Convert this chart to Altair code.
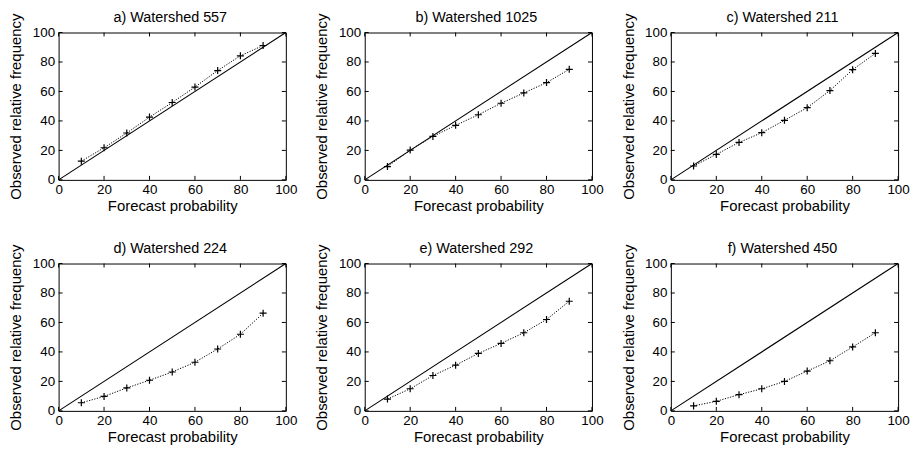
import altair as alt
import pandas as pd

forecast = [10, 20, 30, 40, 50, 60, 70, 80, 90]
titles = ["a) Watershed 557", "b) Watershed 1025", "c) Watershed 211",
          "d) Watershed 224", "e) Watershed 292", "f) Watershed 450"]
obs_557 = [12.7, 21.8, 31.8, 42.6, 52.5, 63.0, 74.2, 84.2, 91.2]
obs_1025 = [9.0, 20.2, 29.5, 37.0, 44.2, 52.0, 59.0, 66.0, 75.0]
obs_211 = [9.4, 17.3, 25.4, 32.0, 40.4, 49.0, 60.6, 74.8, 85.8]
obs_224 = [5.5, 9.8, 15.6, 20.8, 26.4, 33.0, 42.0, 52.0, 66.3]
obs_292 = [8.0, 15.0, 24.0, 31.0, 39.0, 45.8, 53.0, 62.0, 74.4]
obs_450 = [3.4, 6.5, 11.0, 15.0, 20.0, 27.0, 34.0, 43.4, 53.0]
series = [obs_557, obs_1025, obs_211, obs_224, obs_292, obs_450]
ticks = [0, 20, 40, 60, 80, 100]
diag = [0, 100]

W, H = 229, 148.5
FONT = "Liberation Sans"
PLUS = "M-1,0L1,0M0,-1L0,1"


def panel(title, obs):
    df = pd.DataFrame({"f": forecast, "o": obs})
    dd = pd.DataFrame({"f": diag, "o": diag})
    tk = pd.DataFrame({"f": ticks, "o": ticks})
    tt = pd.DataFrame({"t": [title]})
    xs = alt.Scale(domain=[0, 100], nice=False)
    ys = alt.Scale(domain=[0, 100], nice=False)
    x = alt.X("f:Q", scale=xs, axis=alt.Axis(values=ticks, title="Forecast probability",
                                              labelPadding=3, titlePadding=2))
    y = alt.Y("o:Q", scale=ys, axis=alt.Axis(values=ticks, title="Observed relative frequency",
                                              labelPadding=4, titlePadding=8.5))

    d = alt.Chart(dd).mark_line(color="black", strokeWidth=1.1).encode(x=x, y=y)
    l = alt.Chart(df).mark_line(color="black", strokeWidth=1, strokeDash=[1.2, 1.5]).encode(x=x, y=y)
    p = alt.Chart(df).mark_point(shape=PLUS, size=50, color="black", filled=False,
                                 strokeWidth=1.2, opacity=1).encode(x=x, y=y)
    t1 = alt.Chart(tk).mark_rule(color="black").encode(x=x, y=alt.value(H), y2=alt.value(H - 4))
    t2 = alt.Chart(tk).mark_rule(color="black").encode(x=x, y=alt.value(0), y2=alt.value(4))
    t3 = alt.Chart(tk).mark_rule(color="black").encode(y=y, x=alt.value(0), x2=alt.value(4))
    t4 = alt.Chart(tk).mark_rule(color="black").encode(y=y, x=alt.value(W), x2=alt.value(W - 4))
    ti = alt.Chart(tt).mark_text(font=FONT, fontSize=14.5, color="black", align="center",
                                 baseline="alphabetic").encode(
        text="t:N", x=alt.value(W / 2 - 2), y=alt.value(-10.5))
    return alt.layer(d, l, p, t1, t2, t3, t4, ti).properties(width=W, height=H)


panels = [panel(t, s) for t, s in zip(titles, series)]
chart = alt.concat(*panels, columns=3, spacing={"row": 83.8, "column": 79.5}, bounds="flush").configure_view(
    stroke="black", strokeWidth=1
).configure_axis(
    grid=False, domain=False, ticks=False, labelFlush=False, labelOverlap=False,
    labelFont=FONT, labelFontSize=13.5, labelColor="black",
    titleFont=FONT, titleFontSize=15, titleColor="black", titleFontWeight="normal"
).properties(padding={"left": 0, "top": 0, "right": 0, "bottom": 0}, background="white")

chart.save("out.html", embed_options={"renderer": "svg", "actions": False})
